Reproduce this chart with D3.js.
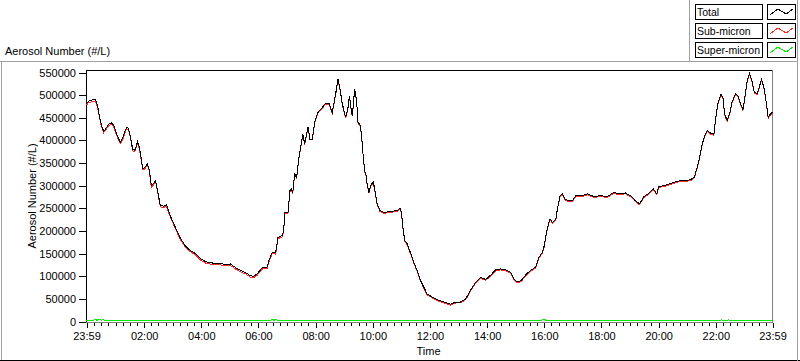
<!DOCTYPE html>
<html><head><meta charset="utf-8">
<script src="https://cdn.jsdelivr.net/npm/d3@7"></script>
<style>
html,body{margin:0;padding:0;background:#fff;}
svg{display:block;font-family:"Liberation Sans",Arial,sans-serif;}
</style></head><body>
<svg id="chart" width="800" height="361"></svg>
<script>
// ---------- data ----------
const times = ["23:59","00:03","00:09","00:18","00:22","00:26","00:30","00:35","00:39","00:45","00:51","00:56","01:02","01:08","01:10","01:15","01:19","01:23","01:27","01:31","01:36","01:40","01:44","01:46","01:50","01:55","01:57","02:01","02:07","02:11","02:15","02:20","02:24","02:28","02:34","02:41","02:47","02:51","02:55","03:06","03:16","03:27","03:37","03:48","03:58","04:09","04:19","04:30","04:40","04:51","05:01","05:12","05:22","05:33","05:43","05:50","05:57","06:08","06:18","06:22","06:29","06:36","06:41","06:50","06:53","06:55","07:02","07:06","07:09","07:12","07:16","07:20","07:25","07:28","07:33","07:37","07:44","07:48","07:53","07:58","08:05","08:14","08:21","08:28","08:35","08:42","08:47","08:51","08:56","09:03","09:08","09:11","09:15","09:17","09:22","09:26","09:29","09:34","09:38","09:40","09:43","09:46","09:48","09:52","09:55","10:01","10:04","10:09","10:15","10:23","10:37","10:51","10:57","11:00","11:04","11:07","11:12","11:19","11:26","11:33","11:40","11:47","11:54","12:05","12:15","12:29","12:43","12:54","13:04","13:15","13:25","13:36","13:46","13:57","14:07","14:18","14:28","14:39","14:49","14:56","15:03","15:12","15:21","15:31","15:42","15:49","15:56","16:00","16:06","16:12","16:17","16:24","16:28","16:33","16:38","16:43","16:51","16:59","17:06","17:20","17:30","17:44","17:58","18:12","18:26","18:37","18:50","19:01","19:11","19:20","19:29","19:39","19:49","19:56","20:00","20:11","20:25","20:39","20:53","21:07","21:15","21:21","21:26","21:31","21:36","21:42","21:49","21:56","21:59","22:04","22:11","22:16","22:18","22:24","22:29","22:34","22:41","22:46","22:52","22:57","23:00","23:06","23:11","23:16","23:21","23:27","23:32","23:36","23:41","23:46","23:50","23:55","23:59"];

const total = [481000,486000,489000,490000,478000,455000,435000,420000,425000,435000,439000,434000,415000,400000,396000,405000,418000,428000,427000,410000,380000,378000,388000,398000,385000,352000,338000,340000,348000,335000,300000,305000,311000,290000,256000,255000,258000,245000,233000,207000,184000,166000,157000,150000,139000,132000,130000,128000,128000,126000,127000,119000,113000,108000,101000,100000,105000,119000,120000,135000,153000,152000,186000,190000,201000,241000,241000,289000,292000,285000,326000,318000,363000,381000,414000,392000,429000,403000,403000,440000,462000,473000,482000,482000,462000,503000,536000,514000,481000,451000,473000,499000,466000,455000,514000,488000,440000,433000,392000,363000,333000,322000,304000,285000,300000,308000,293000,260000,245000,241000,243000,245000,250000,241000,201000,179000,172000,152000,131000,113000,91000,76000,61000,54000,48000,43000,38000,43000,43000,50000,69000,87000,97000,93000,102000,114000,116000,114000,109000,94000,87000,91000,103000,113000,120000,142000,153000,168000,205000,227000,219000,225000,252000,278000,282000,271000,267000,267000,278000,278000,282000,276000,278000,276000,285000,282000,284000,278000,267000,260000,276000,283000,293000,282000,298000,300000,305000,310000,311000,313000,319000,341000,363000,389000,409000,422000,416000,413000,444000,481000,503000,492000,459000,444000,459000,484000,503000,499000,481000,468000,488000,532000,548000,532000,506000,503000,521000,534000,517000,484000,451000,459000,462000];

const subMicron = [478000,483000,485000,486000,474000,452000,432000,417000,422000,432000,436000,431000,412000,397000,393000,402000,415000,425000,424000,407000,377000,375000,385000,395000,382000,349000,335000,337000,345000,332000,297000,302000,308000,287000,253000,252000,255000,242000,230000,204000,181000,163000,154000,147000,136000,129000,127000,125000,125000,123000,124000,116000,110000,105000,98000,97000,102000,116000,117000,132000,150000,149000,183000,187000,198000,238000,239000,287000,290000,283000,324000,316000,361000,379000,412000,390000,427000,401000,401000,438000,460000,471000,480000,480000,460000,501000,534000,512000,479000,449000,471000,497000,464000,453000,512000,486000,438000,431000,390000,361000,331000,320000,302000,283000,298000,306000,291000,258000,243000,239000,241000,243000,248000,239000,199000,177000,170000,150000,129000,111000,89000,74000,59000,52000,46000,41000,36000,41000,41000,48000,67000,85000,95000,91000,100000,112000,114000,112000,107000,92000,85000,89000,101000,111000,118000,140000,151000,166000,203000,225000,217000,223000,250000,276000,280000,269000,265000,265000,276000,276000,280000,274000,276000,274000,283000,280000,282000,276000,265000,258000,274000,281000,291000,280000,296000,298000,303000,308000,309000,311000,317000,339000,361000,387000,407000,420000,414000,411000,442000,479000,501000,490000,457000,442000,457000,482000,501000,497000,479000,466000,486000,530000,546000,530000,504000,501000,519000,532000,515000,482000,449000,457000,460000];

const superTimes = ["23:59","00:14","00:17","00:21","00:24","00:31","00:34","00:38","01:00","03:00","05:00","06:25","06:28","06:33","06:36","06:40","06:57","07:00","09:00","12:00","15:00","16:02","16:05","16:08","16:11","16:14","17:00","19:00","21:00","21:40","21:44","21:47","22:08","22:12","22:22","22:26","22:35","22:39","23:05","23:10","23:15","23:20","23:25","23:30","23:35","23:40","23:45","23:50","23:55","23:59"];
const superMicron = [2500,2600,5000,2700,5000,2600,4500,2600,2800,2800,2700,2800,5000,2700,4800,2700,2500,1600,1600,1500,1600,3500,1600,3500,1500,1500,1400,1500,1500,3000,1500,3000,1500,3500,1500,3500,1500,3000,1500,2500,1500,2500,2500,1500,2500,2500,1500,2500,2500,2500];

const seriesNames = ["Total","Sub-micron","Super-micron"];
const seriesColors = ["#000000","#ff2a2a","#00ee00"];
const yTickValues = [0,50000,100000,150000,200000,250000,300000,350000,400000,450000,500000,550000];
const xMajorLabels = ["23:59","02:00","04:00","06:00","08:00","10:00","12:00","14:00","16:00","18:00","20:00","22:00","23:59"];
const yTitle = "Aerosol Number (#/L)";
const xTitle = "Time";

// ---------- helpers ----------
function parseSeq(arr){
  let day = 0, prev = -1;
  return arr.map((s,i)=>{
    const [h,m] = s.split(":").map(Number);
    const mins = h*60+m;
    if (i>0 && mins < prev) day++;
    prev = mins;
    return new Date(2000,0,1+day,h,m);
  });
}
const tDates = parseSeq(times);
const sDates = parseSeq(superTimes);
const xMajorDates = parseSeq(xMajorLabels);

const svg = d3.select("#chart");
const X0 = 86, X1 = 772, Y0 = 321, Y1 = 72;
const x = d3.scaleTime().domain([tDates[0], tDates[tDates.length-1]]).range([X0, X1]);
const y = d3.scaleLinear().domain([0,550000]).range([Y0, Y1]);

// outer panel frame
const frame = svg.append("g").attr("shape-rendering","crispEdges");
frame.append("line").attr("x1",0).attr("x2",797).attr("y1",61.5).attr("y2",61.5).attr("stroke","#a0a0a0");
frame.append("line").attr("x1",1.5).attr("x2",1.5).attr("y1",61).attr("y2",360).attr("stroke","#a0a0a0");
frame.append("line").attr("x1",0).attr("x2",800).attr("y1",360.5).attr("y2",360.5).attr("stroke","#000");
frame.append("line").attr("x1",797.5).attr("x2",797.5).attr("y1",0).attr("y2",361).attr("stroke","#a0a0a0");
frame.append("line").attr("x1",689.5).attr("x2",689.5).attr("y1",0).attr("y2",61).attr("stroke","#a0a0a0");

// title
svg.append("text").attr("x",5).attr("y",55).attr("font-size",11).attr("fill","#000").text(yTitle);

// legend
const leg = svg.append("g").attr("shape-rendering","crispEdges");
const legRows = leg.selectAll("g").data(seriesNames).join("g")
  .attr("transform",(d,i)=>`translate(0,${i*19})`);
legRows.append("rect").attr("x",695.5).attr("y",4.5).attr("width",67).attr("height",15)
  .attr("fill","#fff").attr("stroke","#000");
legRows.append("text").attr("x",697).attr("y",16).attr("font-size",10.5).attr("fill","#000").text(d=>d);
legRows.append("rect").attr("x",767.5).attr("y",4.5).attr("width",28).attr("height",15)
  .attr("fill","#fff").attr("stroke","#000");
legRows.append("path").attr("fill","none").attr("stroke",(d,i)=>seriesColors[i])
  .attr("d","M770,15 L778,9 L786,14 L793,9");

// plot frame
const pf = svg.append("g").attr("shape-rendering","crispEdges");
pf.append("line").attr("x1",X0).attr("x2",X1).attr("y1",70.5).attr("y2",70.5).attr("stroke","#000");
pf.append("line").attr("x1",X0+0.5).attr("x2",X0+0.5).attr("y1",70).attr("y2",322).attr("stroke","#000");
pf.append("line").attr("x1",X1+0.5).attr("x2",X1+0.5).attr("y1",70).attr("y2",323).attr("stroke","#808080");
pf.append("line").attr("x1",X0).attr("x2",X1+1).attr("y1",322.5).attr("y2",322.5).attr("stroke","#808080");

// y axis
const yAxis = svg.append("g").attr("transform",`translate(${X0},0.5)`)
  .call(d3.axisLeft(y).tickValues(yTickValues).tickSize(7).tickPadding(3).tickFormat(d3.format("d")));
yAxis.select(".domain").remove();
yAxis.selectAll("line").attr("shape-rendering","crispEdges");
yAxis.selectAll("text").attr("font-size",11).attr("font-family","Liberation Sans, Arial, sans-serif").attr("fill","#000");

// x axis minor ticks every 15 min
const minorTicks = d3.timeMinute.every(15).range(x.domain()[0], x.domain()[1]);
const xMinor = svg.append("g").attr("transform",`translate(0.5,323)`)
  .call(d3.axisBottom(x).tickValues(minorTicks).tickSize(3).tickFormat(""));
xMinor.select(".domain").remove();
xMinor.selectAll("line").attr("shape-rendering","crispEdges");

const xAxis = svg.append("g").attr("transform",`translate(0.5,323)`)
  .call(d3.axisBottom(x).tickValues(xMajorDates).tickSize(5).tickPadding(4)
    .tickFormat((d,i)=>xMajorLabels[i]));
xAxis.select(".domain").remove();
xAxis.selectAll("line").attr("shape-rendering","crispEdges");
xAxis.selectAll("text").attr("font-size",11).attr("font-family","Liberation Sans, Arial, sans-serif").attr("fill","#000");

// axis titles
svg.append("text").attr("transform",`translate(36,196) rotate(-90)`).attr("text-anchor","middle")
  .attr("font-size",11).attr("fill","#000").text(yTitle);
svg.append("text").attr("x",428.5).attr("y",355).attr("text-anchor","middle")
  .attr("font-size",11).attr("fill","#000").text(xTitle);

// lines
const plot = svg.append("g").attr("transform","translate(0.5,0.5)");
const lineFn = d3.line().x(d=>x(d[0])).y(d=>y(d[1]));
plot.append("path").datum(sDates.map((d,i)=>[d,superMicron[i]]))
  .attr("fill","none").attr("stroke",seriesColors[2]).attr("stroke-width",1)
  .attr("shape-rendering","crispEdges").attr("d",lineFn);
plot.append("path").datum(tDates.map((d,i)=>[d,subMicron[i]]))
  .attr("fill","none").attr("stroke",seriesColors[1]).attr("stroke-width",1)
  .attr("shape-rendering","crispEdges").attr("d",lineFn);
plot.append("path").datum(tDates.map((d,i)=>[d,total[i]]))
  .attr("fill","none").attr("stroke",seriesColors[0]).attr("stroke-width",1)
  .attr("shape-rendering","crispEdges").attr("d",lineFn);
</script>
</body></html>
